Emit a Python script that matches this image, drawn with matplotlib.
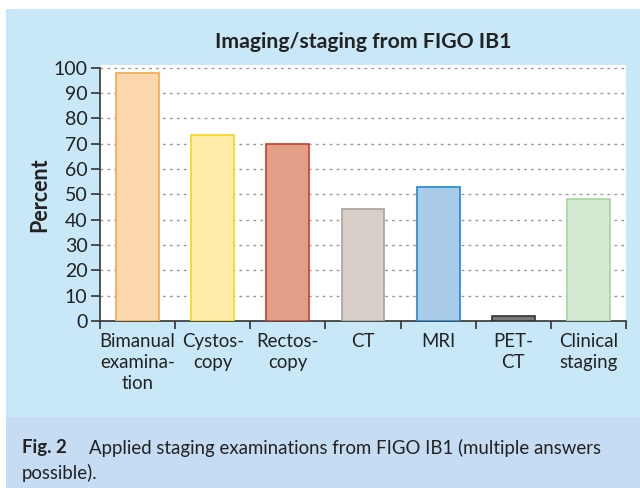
import matplotlib

matplotlib.use("Agg")
import matplotlib.pyplot as plt
from matplotlib.patches import Rectangle

plt.rcParams["font.family"] = ["Lato", "DejaVu Sans"]

categories = ["Bimanual\nexamina-\ntion", "Cystos-\ncopy", "Rectos-\ncopy", "CT", "MRI", "PET-\nCT", "Clinical\nstaging"]
percent = [98, 73.3, 70, 44, 53, 2.1, 48.2]
fill_colors = ["#fdd7ad", "#ffeca8", "#e09f86", "#d7cfc8", "#abcbea", "#7a7a7a", "#d2e8d0"]
edge_colors = ["#f6a94a", "#f7d51c", "#c8402e", "#aaa39c", "#1f8ad2", "#333333", "#a8d6a4"]
y_ticks = list(range(0, 101, 10))

W, H = 640, 488
fig = plt.figure(figsize=(6.4, 4.88), dpi=100)
fig.patch.set_facecolor("white")

# blue panel and caption band, kept behind the axes
fig.patches.append(Rectangle((6 / W, 1 - 417 / H), 1 - 6 / W, (417 - 9) / H,
                             transform=fig.transFigure, facecolor="#c8e8f8", edgecolor="none", zorder=-10))
fig.patches.append(Rectangle((6 / W, 0), 1 - 6 / W, 1 - 417 / H,
                             transform=fig.transFigure, facecolor="#c5dcf2", edgecolor="none", zorder=-10))

ax = fig.add_axes([100 / W, 1 - 321 / H, 526 / W, (321 - 65) / H])
ax.set_facecolor("white")

x = list(range(len(categories)))
ax.bar(x, percent, width=0.57, color=fill_colors, edgecolor=edge_colors, linewidth=1.2, zorder=3)

ax.set_xlim(-0.5, len(categories) - 0.5)
ax.set_ylim(0, 101)
ax.set_yticks(y_ticks)
ax.set_yticklabels([str(v) for v in y_ticks], fontsize=14, color="#222222")
ax.set_xticks(x)
ax.set_xticklabels(categories, fontsize=13.4, color="#222222", linespacing=1.3)
ax.tick_params(axis="x", length=0, pad=8.5)
ax.set_xticks([i - 0.5 for i in range(len(categories) + 1)], minor=True)
ax.tick_params(axis="x", which="minor", length=6, width=1.2, color="#333333", direction="out")
ax.tick_params(axis="y", length=6.5, width=1.2, color="#333333", pad=2.5)

ax.grid(axis="y", linestyle=(0, (2, 3)), color="#999999", linewidth=1, zorder=1)
ax.set_axisbelow(True)

for side in ["top", "right"]:
    ax.spines[side].set_visible(False)
ax.spines["left"].set_bounds(0, 100)
ax.spines["left"].set_color("#333333")
ax.spines["left"].set_linewidth(1.2)
ax.spines["bottom"].set_color("#333333")
ax.spines["bottom"].set_linewidth(1.2)

fig.text(363 / W, 1 - 42 / H, "Imaging/staging from FIGO IB1", ha="center", va="center",
         fontsize=15.3, fontweight="bold", color="#222222")
fig.text(40 / W, 1 - 195 / H, "Percent", ha="center", va="center", rotation=90,
         fontsize=15.5, fontweight="bold", color="#222222")

fig.text(22 / W, 1 - 448 / H, "Fig. 2", ha="left", va="center", fontsize=13.4,
         fontweight="bold", color="#222222")
fig.text(89 / W, 1 - 448 / H, "Applied staging examinations from FIGO IB1 (multiple answers",
         ha="left", va="center", fontsize=13.4, color="#222222")
fig.text(22 / W, 1 - 473 / H, "possible).", ha="left", va="center", fontsize=13.4, color="#222222")

fig.savefig("out.png", dpi=100)
